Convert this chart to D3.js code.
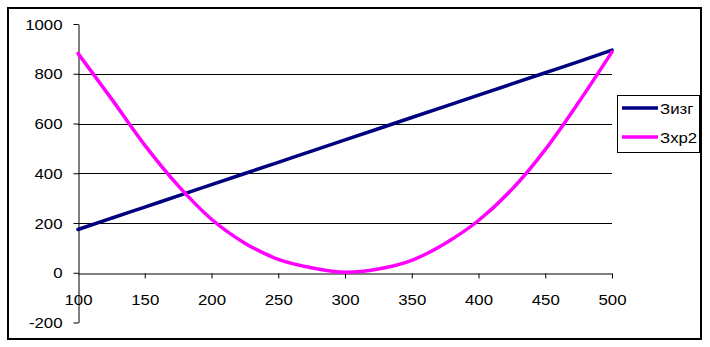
<!DOCTYPE html>
<html><head><meta charset="utf-8">
<script src="https://cdn.jsdelivr.net/npm/d3@7"></script>
<style>
body{margin:0;background:#fff;}
svg text{font-family:"Liberation Sans",Arial,sans-serif;font-size:14px;fill:#000;}
</style></head>
<body><svg id="c" width="710" height="347"></svg>
<script>
const xValues = [100,125,150,175,200,225,250,275,300,325,350,375,400,425,450,475,500];
const zizg   = [174,219,264,309,354,399,444,489,534,579,624,669,714,759,804,849,895];
const zhr2   = [882,700,513,350,215,119,54,20,2,15,50,118,210,335,495,685,888];
const seriesNames = ["Зизг","Зхр2"];
const seriesColors = ["#000080","#FF00FF"];
const xTicks = [100,150,200,250,300,350,400,450,500];
const yTicks = [-200,0,200,400,600,800,1000];
const gridTicks = [200,400,600,800];

const svg = d3.select("#c");
const SX = 1.2;
const fmt = d => String(d);
// outer border
svg.append("rect").attr("x",8).attr("y",8).attr("width",693).attr("height",331)
  .attr("fill","none").attr("stroke","#000").attr("stroke-width",2);

const x = d3.scaleLinear().domain([100,500]).range([78,612]);
const y = d3.scaleLinear().domain([-200,1000]).range([322.5,24]);

// gridlines
svg.append("g").selectAll("line").data(gridTicks).join("line")
  .attr("x1",x(100)).attr("x2",x(500))
  .attr("y1",d=>Math.round(y(d))+0.5).attr("y2",d=>Math.round(y(d))+0.5)
  .attr("stroke","#000").attr("stroke-width",1);

// y axis
const ya = svg.append("g").attr("transform","translate(78.5,0)")
  .call(d3.axisLeft(y).tickValues(yTicks).tickSize(5).tickSizeOuter(0).tickFormat(fmt));
ya.select(".domain").attr("stroke","#000");
ya.selectAll(".tick line").attr("stroke","#000");
ya.selectAll(".tick text").attr("font-size",null).attr("font-family",null)
  .attr("x",-16/SX).attr("dy","0.36em").attr("transform",`scale(${SX},1)`);

// x axis at y=0
const xa = svg.append("g").attr("transform",`translate(0,${Math.round(y(0))+0.5})`)
  .call(d3.axisBottom(x).tickValues(xTicks).tickSize(5).tickSizeOuter(0).tickFormat(fmt));
xa.select(".domain").attr("stroke","#000");
xa.selectAll(".tick line").attr("stroke","#000");
xa.selectAll(".tick text").attr("font-size",null).attr("font-family",null)
  .attr("y",32).attr("dy",0).attr("transform",`scale(${SX},1)`);
xa.selectAll(".tick").filter(d=>d===100).select("line").remove();

// lines
const line = d3.line().x((d,i)=>x(xValues[i])).y(d=>y(d)).curve(d3.curveMonotoneX);
[zizg, zhr2].forEach((s,i)=>{
  svg.append("path").datum(s).attr("d",line).attr("fill","none")
    .attr("stroke",seriesColors[i]).attr("stroke-width",3.5)
    .attr("stroke-linejoin","round").attr("stroke-linecap","round");
});

// legend
const lg = svg.append("g");
lg.append("rect").attr("x",617.5).attr("y",95.5).attr("width",82).attr("height",57)
  .attr("fill","#fff").attr("stroke","#000").attr("stroke-width",1);
seriesNames.forEach((n,i)=>{
  const ly = 108 + i*29;
  lg.append("line").attr("x1",622).attr("x2",658).attr("y1",ly).attr("y2",ly)
    .attr("stroke",seriesColors[i]).attr("stroke-width",3.5);
  lg.append("text").attr("x",660/SX).attr("y",ly+6).attr("transform",`scale(${SX},1)`).text(n);
});
</script></body></html>
